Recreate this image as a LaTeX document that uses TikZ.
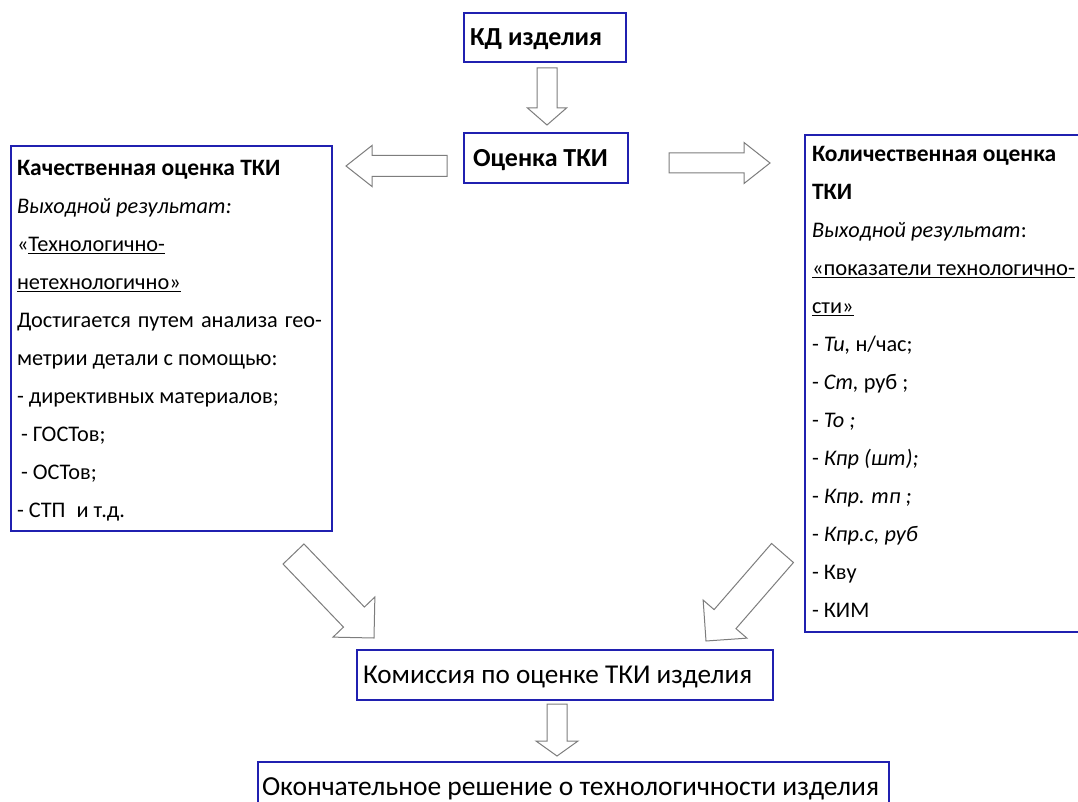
\documentclass[tikz,border=0pt]{standalone}
\usepackage{fontspec}
\usepackage{graphicx}
\setmainfont{Carlito}
\usetikzlibrary{calc}
\definecolor{boxblue}{RGB}{32,32,176}
\definecolor{arrgray}{RGB}{125,125,125}
% #1 tail centre, #2 tip, #3 shaft half width, #4 head half width, #5 head length
\newcommand\blockarrow[5]{%
  \coordinate (ba-h) at ($(#2)!#5!(#1)$);
  \draw[arrline] ($(#1)!#3!90:(#2)$) -- ($(ba-h)!#3!90:(#2)$) --
    ($(ba-h)!#4!90:(#2)$) -- (#2) -- ($(ba-h)!#4!-90:(#2)$) --
    ($(ba-h)!#3!-90:(#2)$) -- ($(#1)!#3!-90:(#2)$) -- cycle;}
\newcommand\bhead[1]{{\fontsize{23.5}{38}\selectfont\bfseries #1}}
\newcommand\natspaces{\raggedright\spaceskip=0pt\relax\xspaceskip=0pt\relax}
\begin{document}
\begin{tikzpicture}[x=1pt,y=-1pt,
  box/.style={draw=boxblue, line width=2.4pt, rectangle, inner sep=0pt,
    outer sep=0pt, anchor=north west},
  titlebox/.style={box, text height=16.7pt, text depth=0pt,
    font=\fontsize{26}{30}\selectfont\bfseries},
  bottombox/.style={box, text height=17.4pt, text depth=0pt,
    font=\fontsize{27.2}{30}\selectfont},
  boxtext/.style={inner sep=0pt, outer sep=0pt, anchor=base west,
    text width=420pt, font=\fontsize{22.3}{38}\selectfont},
  arrline/.style={draw=arrgray, line width=1pt, line join=miter, fill=white}]
\useasboundingbox (0,0) rectangle (1078,802);
\fill[white] (0,0) rectangle (1078,802);

% boxes
\node[titlebox, minimum width=162pt, minimum height=49pt] (kd) at (464,13)
  {\makebox[150pt][l]{КД изделия}};
\node[titlebox, minimum width=164pt, minimum height=50pt] (ocenka) at (464,133)
  {\makebox[146pt][l]{Оценка ТКИ}};
\node[box, minimum width=321pt, minimum height=385pt] (qual) at (11,146) {};
\node[box, minimum width=290pt, minimum height=497pt] (quant) at (805,135) {};
\node[bottombox, minimum width=416pt, minimum height=50pt] (kom) at (357,650)
  {\makebox[404pt][l]{Комиссия по оценке ТКИ изделия}};
\node[bottombox, minimum width=631pt, minimum height=50pt, font=\fontsize{27.5}{30}\selectfont] (fin) at (258,762)
  {\makebox[623pt][l]{Окончательное решение о технологичности изделия}};

% texts of the big boxes
\node[boxtext] (qualtext) at (17,176) {\natspaces
\bhead{Качественная оценка ТКИ}\\
\textit{Выходной результат:}\\
«\underline{Технологично-}\\
\underline{нетехнологично»}\\
\makebox[305pt][s]{Достигается путем анализа гео-}\\
метрии детали с помощью:\\
- директивных материалов;\\
\hspace*{4pt}- ГОСТов;\\
\hspace*{4pt}- ОСТов;\\
- СТП\hspace{6pt} и т.д.};

\node[boxtext] (quanttext) at (812,162) {\natspaces
\bhead{Количественная оценка}\\
\bhead{ТКИ}\\
\textit{Выходной результат}:\\
\resizebox{263pt}{\height}{\underline{«показатели технологично-}}\\
\underline{сти»}\\
- \textit{Ти,} н/час;\\
- \textit{Ст,} руб ;\\
- \textit{То ;}\\
- \textit{Кпр (шт);}\\
- \textit{Кпр. тп ;}\\
- \textit{Кпр.с, руб}\\
- Кву\\
- КИМ};

% block arrows
\coordinate (a1s) at (547,68);   \coordinate (a1e) at (547,125);
\coordinate (a2s) at (447,166);  \coordinate (a2e) at (346,166);
\coordinate (a3s) at (669,163);  \coordinate (a3e) at (770,163);
\coordinate (a4s) at (293.5,554); \coordinate (a4e) at (374,638);
\coordinate (a5s) at (782.5,553); \coordinate (a5e) at (706,641);
\coordinate (a6s) at (557,704);  \coordinate (a6e) at (557,756);
\blockarrow{a1s}{a1e}{10pt}{19.5pt}{17pt}
\blockarrow{a2s}{a2e}{10.5pt}{20.5pt}{26pt}
\blockarrow{a3s}{a3e}{10pt}{20.5pt}{26pt}
\blockarrow{a4s}{a4e}{14.5pt}{29pt}{29pt}
\blockarrow{a5s}{a5e}{14.5pt}{29pt}{29pt}
\blockarrow{a6s}{a6e}{10pt}{21pt}{15pt}
\end{tikzpicture}
\end{document}
